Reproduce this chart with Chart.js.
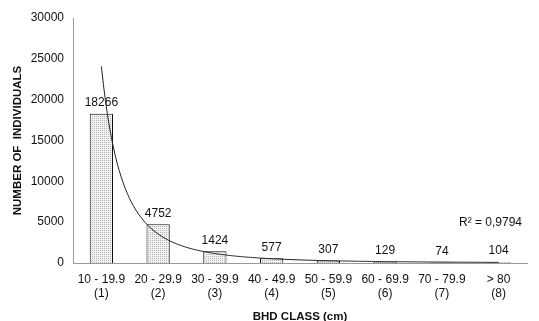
<!DOCTYPE html>
<html>
<head>
<meta charset="utf-8">
<script src="https://cdn.jsdelivr.net/npm/chart.js@4.4.1/dist/chart.umd.min.js"></script>
<style>
  html, body { margin: 0; padding: 0; background: #fff; }
  #wrap { width: 539px; height: 321px; position: relative; }
</style>
</head>
<body>
<div id="wrap"><canvas id="chart"></canvas></div>
<script>
// ---------------------------------------------------------------------------
// Data
// ---------------------------------------------------------------------------

const classRanges = ['10 - 19.9', '20 - 29.9', '30 - 39.9', '40 - 49.9', '50 - 59.9', '60 - 69.9', '70 - 79.9', '> 80'];
const classIds    = ['(1)', '(2)', '(3)', '(4)', '(5)', '(6)', '(7)', '(8)'];
const individuals = [18266, 4752, 1424, 577, 307, 129, 74, 104];
const yTicks      = [0, 5000, 10000, 15000, 20000, 25000, 30000];
const r2Label     = 'R\u00B2 = 0,9794';

const FONT = 'Liberation Sans, Arial, Helvetica, sans-serif';

// ---------------------------------------------------------------------------
// Dotted bar fill
// ---------------------------------------------------------------------------

function dotPattern() {
  const c = document.createElement('canvas');
  c.width = 2; c.height = 2;
  const g = c.getContext('2d');
  g.fillStyle = '#f2f2f2';
  g.fillRect(0, 0, 2, 2);
  g.fillStyle = '#b4b4b4';
  g.fillRect(0, 0, 1, 1);
  return g.createPattern(c, 'repeat');
}

// ---------------------------------------------------------------------------
// Power trendline (least squares on ln x / ln y, x = 1..n like Excel)
// ---------------------------------------------------------------------------

function powerFit(values) {
  const xs = values.map((_, i) => Math.log(i + 1));
  const ys = values.map(v => Math.log(v));
  const n  = values.length;
  const mx = xs.reduce((a, b) => a + b, 0) / n;
  const my = ys.reduce((a, b) => a + b, 0) / n;
  let sxy = 0, sxx = 0;
  xs.forEach((x, i) => { sxy += (x - mx) * (ys[i] - my); sxx += (x - mx) * (x - mx); });
  const b = sxy / sxx;
  const a = Math.exp(my - b * mx);
  return { a, b };
}

const fit = powerFit(individuals);

const trendlinePlugin = {
  id: 'trendline',
  afterDatasetsDraw(chart) {
    const { ctx, scales: { x, y } } = chart;
    ctx.save();
    ctx.strokeStyle = '#222';
    ctx.lineWidth   = 1;
    ctx.beginPath();
    const steps = 200;
    for (let s = 0; s <= steps; s++) {
      const xv = 1 + (individuals.length - 1) * s / steps;
      const px = x.getPixelForValue(xv - 1);
      const py = y.getPixelForValue(fit.a * Math.pow(xv, fit.b));
      if (s === 0) ctx.moveTo(px, py); else ctx.lineTo(px, py);
    }
    ctx.stroke();

    ctx.fillStyle    = '#111';
    ctx.font         = '12px ' + FONT;
    ctx.textAlign    = 'right';
    ctx.textBaseline = 'middle';
    ctx.fillText(r2Label, x.right - 5, 223);
    ctx.restore();
  },
};

const valueLabelPlugin = {
  id: 'valueLabel',
  afterDatasetsDraw(chart) {
    const { ctx } = chart;
    const meta = chart.getDatasetMeta(0);
    meta.data.forEach((bar, i) => {
      ctx.save();
      ctx.fillStyle    = '#111';
      ctx.font         = '12px ' + FONT;
      ctx.textAlign    = 'center';
      ctx.textBaseline = 'bottom';
      ctx.fillText(individuals[i], bar.x, bar.y - 5);
      ctx.restore();
    });
  },
};

// ---------------------------------------------------------------------------
// Chart
// ---------------------------------------------------------------------------

new Chart(document.getElementById('chart'), {
  type: 'bar',
  data: {
    labels: classRanges.map((r, i) => [r, classIds[i]]),
    datasets: [{
      data: individuals,
      backgroundColor: dotPattern(),
      borderColor: '#111',
      borderWidth: 1,
      borderSkipped: 'bottom',
      categoryPercentage: 1,
      barPercentage: 0.41,
    }],
  },
  plugins: [valueLabelPlugin, trendlinePlugin],
  options: {
    responsive: true,
    maintainAspectRatio: false,
    animation: false,
    layout: { padding: { left: 7, right: 12, top: 18, bottom: 0 } },
    plugins: { legend: { display: false }, tooltip: { enabled: false } },
    scales: {
      x: {
        grid: { display: false, drawTicks: false },
        border: { color: '#999', width: 1 },
        ticks: { color: '#111', font: { family: FONT, size: 12, lineHeight: 1.2 }, padding: 9, maxRotation: 0, autoSkip: false },
        title: { display: true, text: 'BHD CLASS (cm)', color: '#111', font: { family: FONT, size: 11.5, weight: 'bold', lineHeight: 0.75 }, padding: { top: 8, bottom: 0 } },
        afterFit: (s) => { s.height = 58; },
      },
      y: {
        min: 0,
        max: 30000,
        afterBuildTicks: (s) => { s.ticks = yTicks.map(v => ({ value: v })); },
        grid: { display: false, drawTicks: true, tickLength: 4, tickColor: '#999' },
        border: { color: '#999', width: 1 },
        ticks: { color: '#111', font: { family: FONT, size: 12 }, padding: 5, callback: (v) => String(v) },
        title: { display: true, text: 'NUMBER OF  INDIVIDUALS', color: '#111', font: { family: FONT, size: 11.5, weight: 'bold' }, padding: { bottom: 0, top: 4 } },
        afterFit: (s) => { s.width = 66; },
      },
    },
  },
});
</script>
</body>
</html>
